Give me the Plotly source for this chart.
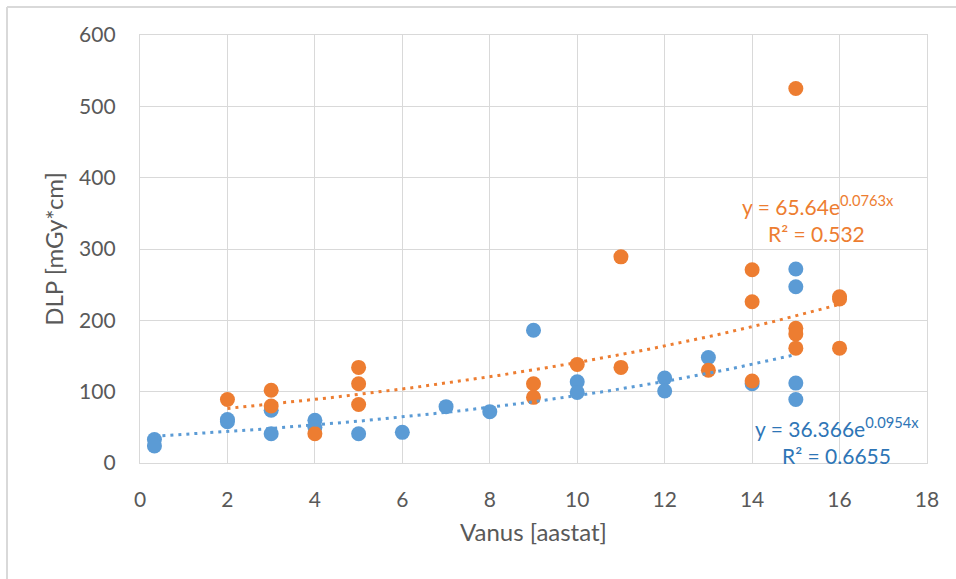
import numpy as np
import plotly.graph_objects as go

# Blue series (DLP vs age)
blue_x = [0.33, 0.33, 2, 2, 3, 3, 4, 4, 5, 6, 7, 8, 9, 10, 10, 12, 12, 13, 14, 15, 15, 15, 15]
blue_y = [33, 24, 58, 61, 74, 41, 60, 50, 41, 43, 79, 72, 186, 114, 99, 119, 101, 148, 111, 272, 247, 112, 89]

# Orange series
orange_x = [2, 3, 3, 4, 5, 5, 5, 9, 9, 10, 11, 11, 13, 14, 14, 14, 15, 15, 15, 15, 16, 16, 16]
orange_y = [89, 102, 80, 41, 134, 111, 82, 111, 92, 138, 289, 134, 130, 271, 226, 115, 525, 189, 181, 161, 233, 230, 161]

# Trendline equations shown on the chart: y = a * exp(b x)
blue_a, blue_b, blue_r2 = 36.366, 0.0954, "0.6655"
orange_a, orange_b, orange_r2 = 65.64, 0.0763, "0.532"

x_ticks = list(range(0, 19, 2))
y_ticks = list(range(0, 601, 100))

BLUE = "#5B9BD5"
ORANGE = "#ED7D31"
GRID = "#D9D9D9"
TXT = "#595959"
FONT = "Lato"

bx = np.linspace(min(blue_x), max(blue_x), 200)
ox = np.linspace(min(orange_x), max(orange_x), 200)

fig = go.Figure()
fig.add_trace(go.Scatter(x=blue_x, y=blue_y, mode="markers",
                         marker=dict(color=BLUE, size=15), showlegend=False,
                         cliponaxis=False))
fig.add_trace(go.Scatter(x=orange_x, y=orange_y, mode="markers",
                         marker=dict(color=ORANGE, size=15), showlegend=False,
                         cliponaxis=False))
fig.add_trace(go.Scatter(x=bx, y=blue_a * np.exp(blue_b * bx), mode="lines",
                         line=dict(color=BLUE, width=3, dash="3px,5px"),
                         showlegend=False))
fig.add_trace(go.Scatter(x=ox, y=orange_a * np.exp(orange_b * ox), mode="lines",
                         line=dict(color=ORANGE, width=3, dash="3px,5px"),
                         showlegend=False))

ann_font = 21
fig.add_annotation(x=15.50, y=361, xref="x", yref="y", showarrow=False,
                   text=f"y = {orange_a}e<sup>{orange_b}x</sup>",
                   font=dict(family=FONT, size=ann_font, color=ORANGE))
fig.add_annotation(x=15.48, y=322, xref="x", yref="y", showarrow=False,
                   text=f"R² = {orange_r2}",
                   font=dict(family=FONT, size=ann_font, color=ORANGE))
fig.add_annotation(x=15.93, y=50, xref="x", yref="y", showarrow=False,
                   text=f"y = {blue_a}e<sup>{blue_b}x</sup>",
                   font=dict(family=FONT, size=ann_font, color="#2E75B6"))
fig.add_annotation(x=15.94, y=11, xref="x", yref="y", showarrow=False,
                   text=f"R² = {blue_r2}",
                   font=dict(family=FONT, size=ann_font, color="#2E75B6"))

# outer chart-area border (top and left visible)
fig.add_shape(type="line", xref="paper", yref="paper", x0=-133 / 787, x1=816 / 787,
              y0=1 + 28 / 428, y1=1 + 28 / 428, line=dict(color=GRID, width=2))
fig.add_shape(type="line", xref="paper", yref="paper", x0=-133 / 787, x1=-133 / 787,
              y0=1 + 28 / 428, y1=-116 / 428, line=dict(color=GRID, width=2))

fig.update_xaxes(range=[0, 18], tickvals=x_ticks, ticktext=[str(v) for v in x_ticks],
                 showgrid=True, gridcolor=GRID, gridwidth=1.3,
                 showline=True, linecolor=GRID, linewidth=1.3, mirror=True,
                 zeroline=False, ticks="", ticklabelstandoff=18,
                 tickfont=dict(family=FONT, size=21, color=TXT),
                 title=dict(text="Vanus [aastat]", standoff=13,
                            font=dict(family=FONT, size=24, color=TXT)))
fig.update_yaxes(range=[0, 600], tickvals=y_ticks, ticktext=[str(v) for v in y_ticks],
                 showgrid=True, gridcolor=GRID, gridwidth=1.3,
                 showline=True, linecolor=GRID, linewidth=1.3, mirror=True,
                 zeroline=False, ticks="", ticklabelstandoff=19,
                 tickfont=dict(family=FONT, size=21, color=TXT),
                 title=dict(text="DLP [mGy*cm]", standoff=8,
                            font=dict(family=FONT, size=24, color=TXT)))

fig.update_layout(width=956, height=579,
                  margin=dict(l=140, r=29, t=35, b=116, autoexpand=False),
                  paper_bgcolor="white", plot_bgcolor="white",
                  font=dict(family=FONT, color=TXT))

fig.write_html("out.html", config={"displayModeBar": False},
               post_script="document.body.style.margin='0px';document.body.style.overflow='hidden';")
